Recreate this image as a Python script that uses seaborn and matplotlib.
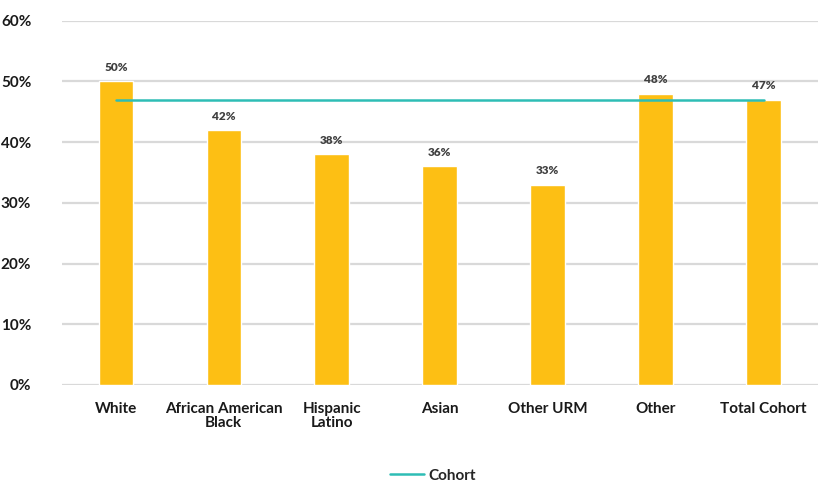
import matplotlib
matplotlib.use("Agg")
import matplotlib.pyplot as plt
import seaborn as sns
import pandas as pd

# data
categories = ['White', 'African American\nBlack', 'Hispanic\nLatino', 'Asian',
              'Other URM', 'Other', 'Total Cohort']
values = [50, 42, 38, 36, 33, 48, 47]
cohort = [47, 47, 47, 47, 47, 47, 47]
yticks = [0, 10, 20, 30, 40, 50, 60]

BAR = '#FDBF14'
TEAL = '#2EBDB5'

sns.set_theme(style='white')
plt.rcParams['font.family'] = ['Lato', 'DejaVu Sans']

df = pd.DataFrame({'group': categories, 'rate': values, 'cohort': cohort})

fig = plt.figure(figsize=(8.25, 4.83), dpi=100)
ax = fig.add_axes([0.075, 0.203, 0.916, 0.754])

sns.barplot(data=df, x='group', y='rate', color=BAR, width=0.32,
            saturation=1, errorbar=None, ax=ax, zorder=3)
line, = ax.plot(range(len(categories)), df['cohort'], color=TEAL, lw=1.8,
                label='Cohort', zorder=4)

for i, v in enumerate(values):
    ax.text(i, v + 1.4, f'{v}%', ha='center', va='bottom', fontsize=8.5,
            fontweight='heavy', color='#404040')

ax.set_ylim(0, 60)
ax.set_xlim(-0.5, len(categories) - 0.5)
ax.set_yticks(yticks)
ax.set_yticklabels([f'{t}%' for t in yticks], fontsize=11, fontweight='bold',
                   color='#1a1a1a')
ax.set_xticks(range(len(categories)))
ax.set_xticklabels(categories, fontsize=11, fontweight='bold', color='#1a1a1a',
                   linespacing=1.0)
ax.tick_params(axis='both', length=0)
ax.tick_params(axis='x', pad=12)
ax.tick_params(axis='y', pad=22)
ax.set_xlabel('')
ax.set_ylabel('')
ax.yaxis.grid(True, color='#D9D9D9', lw=1.6, zorder=0)
ax.set_axisbelow(True)
sns.despine(ax=ax, left=True, bottom=True)

fig.legend(handles=[line], labels=['Cohort'], loc='center',
           bbox_to_anchor=(0.525, 0.015), frameon=False, ncol=1,
           handlelength=2.2, handletextpad=0.3,
           prop={'size': 11, 'weight': 'bold'})

fig.savefig('out.png', dpi=100)
